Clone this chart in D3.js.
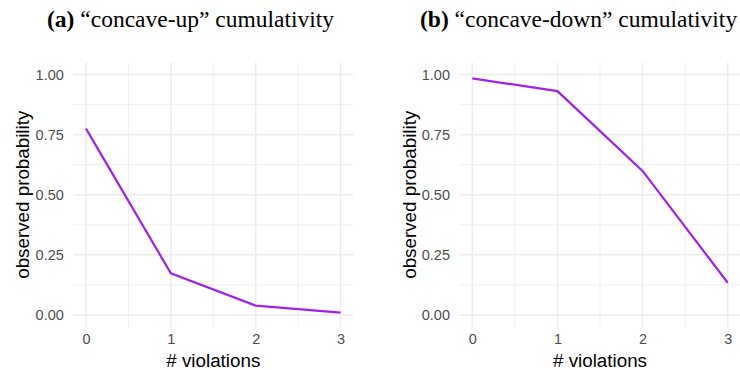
<!DOCTYPE html>
<html>
<head>
<meta charset="utf-8">
<script src="https://cdn.jsdelivr.net/npm/d3@7"></script>
<style>
  body { margin: 0; background: #fff; }
</style>
</head>
<body>
<script>
var violations = [0, 1, 2, 3];
var concaveUp = [0.775, 0.173, 0.039, 0.010];
var concaveDown = [0.984, 0.931, 0.599, 0.134];
var yTicks = [0, 0.25, 0.5, 0.75, 1];
var titles = [["(a)", " \u201cconcave-up\u201d cumulativity"], ["(b)", " \u201cconcave-down\u201d cumulativity"]];

var width = 740, height = 370;
var sans = "'Liberation Sans', Arial, sans-serif",
  serif = "'Liberation Serif', 'Times New Roman', serif";

var svg = d3.select("body").append("svg")
  .attr("width", width)
  .attr("height", height);

// panel boxes (left edge of x range, right edge) picked to match the figure
var panels = [
  {values: concaveUp, title: titles[0], left: 73.3, right: 353.3, titleX: 47},
  {values: concaveDown, title: titles[1], left: 459.5, right: 740.5, titleX: 420}
];

var panelTop = 62.5, panelBottom = 327;

panels.forEach(function(p) {
  var x = d3.scaleLinear().domain([-0.15, 3.15]).range([p.left, p.right]);
  var y = d3.scaleLinear().domain([-0.05, 1.05]).range([panelBottom, panelTop]);

  var g = svg.append("g");

  // minor grid
  var xMinor = [0.5, 1.5, 2.5], yMinor = [0.125, 0.375, 0.625, 0.875];
  g.selectAll(".xminor").data(xMinor).enter().append("line")
    .attr("x1", function(d) { return x(d); }).attr("x2", function(d) { return x(d); })
    .attr("y1", panelTop).attr("y2", panelBottom)
    .attr("stroke", "#ebebeb").attr("stroke-width", 0.8);
  g.selectAll(".yminor").data(yMinor).enter().append("line")
    .attr("y1", function(d) { return y(d); }).attr("y2", function(d) { return y(d); })
    .attr("x1", p.left).attr("x2", p.right)
    .attr("stroke", "#ebebeb").attr("stroke-width", 0.8);

  // major grid
  g.selectAll(".xmajor").data(violations).enter().append("line")
    .attr("x1", function(d) { return x(d); }).attr("x2", function(d) { return x(d); })
    .attr("y1", panelTop).attr("y2", panelBottom)
    .attr("stroke", "#ebebeb").attr("stroke-width", 1.5);
  g.selectAll(".ymajor").data(yTicks).enter().append("line")
    .attr("y1", function(d) { return y(d); }).attr("y2", function(d) { return y(d); })
    .attr("x1", p.left).attr("x2", p.right)
    .attr("stroke", "#ebebeb").attr("stroke-width", 1.5);

  // axes (labels only)
  var xAxis = g.append("g")
    .attr("transform", "translate(0," + panelBottom + ")")
    .call(d3.axisBottom(x).tickValues(violations).tickFormat(d3.format("d")).tickSize(0).tickPadding(7))
    .attr("font-family", sans).attr("font-size", 14.5);
  xAxis.select(".domain").remove();
  xAxis.selectAll(".tick text").attr("fill", "#4d4d4d");

  var yAxis = g.append("g")
    .attr("transform", "translate(" + p.left + ",0)")
    .call(d3.axisLeft(y).tickValues(yTicks).tickFormat(d3.format(".2f")).tickSize(0).tickPadding(9.5))
    .attr("font-family", sans).attr("font-size", 14.5);
  yAxis.select(".domain").remove();
  yAxis.selectAll(".tick text").attr("fill", "#4d4d4d");

  // data line
  var line = d3.line()
    .x(function(d, i) { return x(violations[i]); })
    .y(function(d) { return y(d); });

  g.append("path")
    .datum(p.values)
    .attr("fill", "none")
    .attr("stroke", "#a020f0")
    .attr("stroke-width", 2.2)
    .attr("d", line);

  // axis titles
  g.append("text")
    .attr("font-family", sans).attr("font-size", 18.8)
    .attr("x", (p.left + p.right) / 2)
    .attr("y", 367)
    .attr("text-anchor", "middle")
    .text("# violations");

  g.append("text")
    .attr("font-family", sans).attr("font-size", 18.8)
    .attr("transform", "translate(" + (p.left - 44) + "," + ((panelTop + panelBottom) / 2) + ")rotate(-90)")
    .attr("text-anchor", "middle")
    .text("observed probability");

  // panel title
  var t = g.append("text")
    .attr("font-family", serif).attr("font-size", 23.5)
    .attr("x", p.titleX)
    .attr("y", 27);
  t.append("tspan").attr("font-weight", "bold").text(p.title[0]);
  t.append("tspan").text(p.title[1]);
});
</script>
</body>
</html>
